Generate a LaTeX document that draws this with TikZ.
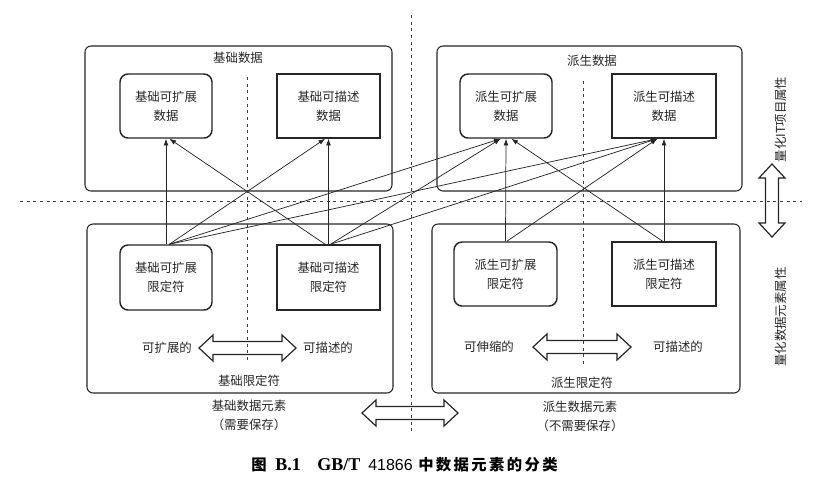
\documentclass[tikz,border=0pt]{standalone}
\usepackage{fontspec}
\newfontfamily\cjk{Noto Sans CJK SC}
\newfontfamily\lat{Liberation Serif}
\newfontfamily\lsans{Liberation Sans}
\usetikzlibrary{arrows.meta}
\begin{document}
\begin{tikzpicture}[x=0.75pt,y=-0.75pt,
  txt/.style={font=\cjk\fontsize{9.3pt}{14.25pt}\selectfont, text=black!85, inner sep=0pt},
  outerbox/.style={draw=black!85, line width=0.8pt, rounded corners=4.5pt},
  rbox/.style={txt, draw=black!85, line width=1.1pt, rounded corners=6pt, align=center},
  sbox/.style={txt, draw=black!85, line width=1.1pt, align=center},
  link/.style={draw=black!85, line width=0.55pt, -{Latex[length=5pt,width=3.6pt]}},
  dotline/.style={draw=black!75, line width=0.6pt, dash pattern=on 2.2pt off 2.8pt},
  blockarrow/.style={draw=black!85, line width=0.9pt, fill=white, line join=miter},
  pics/hdarrow/.style={code={
    \draw[blockarrow] (0,0) -- (14,-13) -- (14,-6.5) -- (#1-14,-6.5) -- (#1-14,-13)
      -- (#1,0) -- (#1-14,13) -- (#1-14,6.5) -- (14,6.5) -- (14,13) -- cycle;}},
]
\fill[white] (0,0) rectangle (826,487);
\useasboundingbox (0,0) rectangle (826,487);

% outer boxes
\node[outerbox, minimum width=307*0.75pt, minimum height=145*0.75pt] (TL) at (238.5,118.5) {};
\node[outerbox, minimum width=305*0.75pt, minimum height=145*0.75pt] (TR) at (589.5,118.5) {};
\node[outerbox, minimum width=306*0.75pt, minimum height=169*0.75pt] (BL) at (240,308.5) {};
\node[outerbox, minimum width=308*0.75pt, minimum height=169*0.75pt] (BR) at (586,308.5) {};
\node[txt] (TLt) at (238,58) {基础数据};
\node[txt] (TRt) at (592,61) {派生数据};

% inner boxes
\node[rbox, minimum width=92*0.75pt, minimum height=64*0.75pt] (a) at (166,106) {基础可扩展\\数据};
\node[sbox, minimum width=103*0.75pt, minimum height=64*0.75pt] (b) at (328.5,106) {基础可描述\\数据};
\node[rbox, minimum width=92*0.75pt, minimum height=64*0.75pt] (c) at (506,106) {派生可扩展\\数据};
\node[sbox, minimum width=104*0.75pt, minimum height=64*0.75pt] (d) at (664,106) {派生可描述\\数据};
\node[rbox, minimum width=92*0.75pt, minimum height=65*0.75pt] (A) at (166,277.5) {基础可扩展\\限定符};
\node[sbox, minimum width=103*0.75pt, minimum height=65*0.75pt] (B) at (328.5,277.5) {基础可描述\\限定符};
\node[rbox, minimum width=103*0.75pt, minimum height=64*0.75pt] (C) at (505.5,274) {派生可扩展\\限定符};
\node[sbox, minimum width=104*0.75pt, minimum height=64*0.75pt] (D) at (664,274) {派生可描述\\限定符};

% links
\draw[link] (A.north) -- (a.south);
\draw[link] ([xshift=2.5pt]A.north) -- ([xshift=-2.5pt]b.south);
\draw[link] ([xshift=2.5pt]A.north) -- ([xshift=-4pt]c.south);
\draw[link] ([xshift=2.5pt]A.north) -- ([xshift=-5pt]d.south);
\draw[link] ([xshift=-2.5pt]B.north) -- ([xshift=2.5pt]a.south);
\draw[link] (B.north) -- (b.south);
\draw[link] ([xshift=1.5pt]B.north) -- ([xshift=-4pt]c.south);
\draw[link] ([xshift=1.5pt]B.north) -- ([xshift=-5pt]d.south);
\draw[link] (C.north) -- (c.south);
\draw[link] ([xshift=1pt]C.north) -- ([xshift=-5pt]d.south);
\draw[link] ([xshift=-1pt]D.north) -- ([xshift=4pt]c.south);
\draw[link] (D.north) -- (d.south);

% labels
\node[txt] (ext1) at (167,348) {可扩展的};
\node[txt] (des1) at (328,348) {可描述的};
\node[txt] (bq) at (249,381) {基础限定符};
\node[txt] (be) at (249,406) {基础数据元素};
\node[txt] (bs) at (249,425) {（需要保存）};
\node[txt] (ext2) at (489,347) {可伸缩的};
\node[txt] (des2) at (678,347) {可描述的};
\node[txt] (dq) at (582,383) {派生限定符};
\node[txt] (de) at (580,407) {派生数据元素};
\node[txt] (ds) at (580,426) {（不需要保存）};
\node[txt, rotate=90] (v1) at (781,119.5) {量化IT项目属性};
\node[txt, rotate=90] (v2) at (781,317) {量化数据元素属性};

% block arrows
\pic at (199,348) {hdarrow=97};
\pic at (533,347) {hdarrow=98};
\pic at (362,413) {hdarrow=96};
\pic[rotate=-90] at (772,164) {hdarrow=73};

% dotted lines
\coordinate (h1) at (20,201); \coordinate (h2) at (802,201);
\coordinate (m1) at (411,15); \coordinate (m2) at (411,432);
\coordinate (l1) at (247,77); \coordinate (l2) at (247,360);
\coordinate (r1) at (583,81); \coordinate (r2) at (583,365);
\draw[dotline] (h1) -- (h2);
\draw[dotline] (m1) -- (m2);
\draw[dotline] (l1) -- (l2);
\draw[dotline] (r1) -- (r2);

% caption
\node[anchor=west, inner sep=0pt, font=\cjk\bfseries\fontsize{11.5pt}{14pt}\selectfont] (cap1) at (251,465) {图};
\node[anchor=west, inner sep=0pt, font=\lat\bfseries\fontsize{13.5pt}{15pt}\selectfont] (cap1b) at (275,465) {B.1};
\node[anchor=west, inner sep=0pt, font=\lat\bfseries\fontsize{13.5pt}{15pt}\selectfont] (cap2) at (317,465) {GB/T};
\node[anchor=west, inner sep=0pt, font=\lsans\fontsize{12pt}{15pt}\selectfont] (cap2b) at (368,465) {41866};
\node[anchor=west, inner sep=0pt, font=\cjk\bfseries\fontsize{11.5pt}{14pt}\selectfont] (cap3) at (418,465) {中\hspace{1.8pt}数\hspace{1.8pt}据\hspace{1.8pt}元\hspace{1.8pt}素\hspace{1.8pt}的\hspace{1.8pt}分\hspace{1.8pt}类};
\end{tikzpicture}
\end{document}
